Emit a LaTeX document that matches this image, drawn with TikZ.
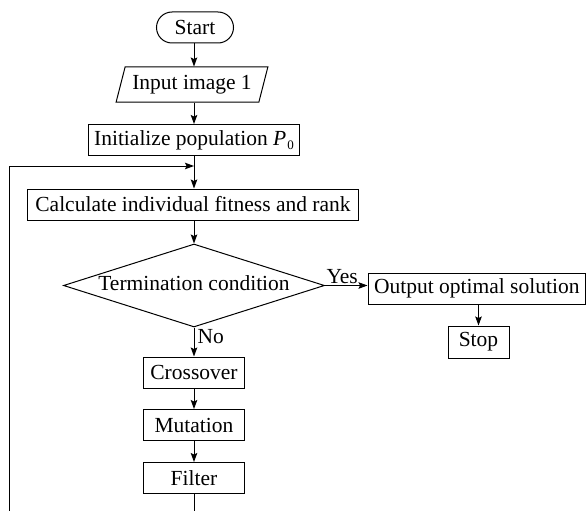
\documentclass[tikz,border=0pt]{standalone}
\usepackage{fontspec}
\setmainfont{Liberation Serif}
\usetikzlibrary{shapes.geometric,arrows.meta,calc}
\begin{document}
\begin{tikzpicture}[x=1pt,y=-1pt,
  font=\fontsize{21.5}{25}\selectfont,
  line width=1pt,
  >={Stealth[length=9pt,width=6.5pt,inset=1.5pt]},
  box/.style={draw,rectangle,inner sep=0pt,minimum height=31pt},
  pill/.style={draw,rectangle,rounded corners=15.5pt,inner sep=0pt,minimum width=77pt,minimum height=31pt},
  iobox/.style={draw,trapezium,trapezium left angle=67,trapezium right angle=113,trapezium stretches=true,inner sep=0pt,minimum width=152pt,minimum height=35pt},
  decision/.style={draw,diamond,inner sep=0pt,minimum width=261pt,minimum height=83pt},
  lbl/.style={inner sep=1pt}
]
\useasboundingbox (0,0) rectangle (586,511);
\clip (0,0) rectangle (586,511);
\node[pill] (start) at (195,27.5) {Start};
\node[iobox] (input) at (192,84.5) {Input image 1};
\node[box,minimum width=211pt] (init) at (194,140) {Initialize population \textit{P}\kern1pt\raisebox{-4pt}{\fontsize{13}{13}\selectfont 0}};
\coordinate (merge) at (194,166);
\node[box,minimum width=331pt] (calc) at (193,204.5) {Calculate individual fitness and rank};
\node[decision,label={[yshift=2pt]center:Termination condition}] (cond) at (194,285.5) {};
\node[box,minimum width=217.5pt] (output) at (476.75,288.5) {Output optimal solution};
\node[box,minimum width=61pt,minimum height=32pt] (stop) at (478.5,342) {Stop};
\node[box,minimum width=101pt] (cross) at (194,372.5) {Crossover};
\node[box,minimum width=101pt] (mut) at (194,425) {Mutation};
\node[box,minimum width=101pt] (filt) at (194,478) {Filter};
\coordinate (lbot) at (194,530);
\coordinate (lleft) at (9,530);

\draw[->] (start.south -| input.center) ++(2,0) coordinate (s1) -- (s1 |- input.north);
\draw[->] (input.south) ++(2,0) coordinate (s2) -- (s2 |- init.north);
\draw[->] (init.south) -- (init.south |- calc.north);
\draw[->] (calc.south -| cond.north) -- (cond.north);
\draw[->] (cond.east) -- (cond.east -| output.west) node[lbl,pos=0,anchor=south west] {Yes};
\draw[->] (stop.north |- output.south) -- (stop.north);
\draw[->] (cond.south) -- (cross.north) node[lbl,pos=0.02,anchor=north west,xshift=2pt] {No};
\draw[->] (cross.south) -- (mut.north);
\draw[->] (mut.south) -- (filt.north);
\draw[->] (filt.south) -- (lbot) -- (lleft) |- (merge);
\end{tikzpicture}
\end{document}
